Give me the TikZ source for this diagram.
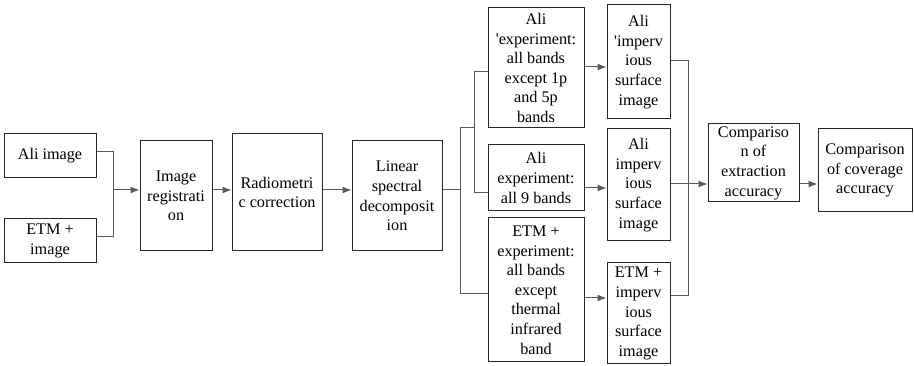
\documentclass[tikz,border=0pt]{standalone}
\usepackage{fontspec}
\newfontfamily\diagfont{Liberation Serif}
\usetikzlibrary{arrows.meta}
\begin{document}
\begin{tikzpicture}[x=1pt,y=-1pt,
  box/.style={draw=black!85, line width=1pt, inner sep=0pt, align=center,
    font=\diagfont\fontsize{16.2}{19.6}\selectfont},
  conn/.style={draw=black!65, line width=1pt},
  arr/.style={conn, -{Latex[length=9pt,width=7pt]}}]
\useasboundingbox (0,0) rectangle (914,366);
% boxes
\node[box, minimum width=92, minimum height=44] (ali) at (50,156) {Ali image};
\node[box, minimum width=92, minimum height=44] (etm) at (50,241) {ETM +\\image};
\node[box, minimum width=72, minimum height=110] (reg) at (176,196) {Image\\registrati\\on};
\node[box, minimum width=90, minimum height=117] (rad) at (277,192.5) {Radiometri\\c correction};
\node[box, minimum width=90, minimum height=110] (lin) at (397,196) {Linear\\spectral\\decomposit\\ion};
\node[box, minimum width=96, minimum height=120] (exp1) at (536,68) {Ali\\\textquotesingle experiment:\\all bands\\except 1p\\and 5p\\bands};
\node[box, minimum width=96, minimum height=66] (exp2) at (536,178) {Ali\\experiment:\\all 9 bands};
\node[box, minimum width=96, minimum height=144] (exp3) at (536,290) {ETM +\\experiment:\\all bands\\except\\thermal\\infrared\\band};
\node[box, minimum width=63, minimum height=114] (imp1) at (638.5,62) {Ali\\\textquotesingle imperv\\ious\\surface\\image};
\node[box, minimum width=63, minimum height=112] (imp2) at (638.5,185) {Ali\\imperv\\ious\\surface\\image};
\node[box, minimum width=63, minimum height=101] (imp3) at (638.5,313.5) {ETM +\\imperv\\ious\\surface\\image};
\node[box, minimum width=91, minimum height=78] (cmp1) at (753.5,163) {Compariso\\n of\\extraction\\accuracy};
\node[box, minimum width=94, minimum height=83] (cmp2) at (865,170.5) {Comparison\\of coverage\\accuracy};
% junction coordinates
\coordinate (ja) at (113,152);
\coordinate (jb) at (113,237);
\coordinate (jc) at (113,190);
\coordinate (b0) at (460,190);
\coordinate (b1) at (460,128);
\coordinate (b2) at (460,294);
\coordinate (c1) at (474,128);
\coordinate (c2) at (474,72);
\coordinate (c3) at (474,193);
\coordinate (d1) at (688,61);
\coordinate (d2) at (688,184);
\coordinate (d3) at (688,296);
% connectors
\draw[conn] (ali.east |- ja) -- (ja) -- (jb) -- (etm.east |- jb);
\draw[arr] (jc) -- (reg.west |- jc);
\draw[arr] (reg.east |- jc) -- (rad.west |- jc);
\draw[arr] (rad.east |- jc) -- (lin.west |- jc);
\draw[conn] (lin.east |- b0) -- (b0);
\draw[conn] (b1) -- (b2) -- (exp3.west |- b2);
\draw[conn] (b1) -- (c1);
\draw[conn] (exp1.west |- c2) -- (c2) -- (c3) -- (exp2.west |- c3);
\draw[arr] (exp1.east |- 0,67) -- (imp1.west |- 0,67);
\draw[arr] (exp2.east |- 0,188) -- (imp2.west |- 0,188);
\draw[arr] (exp3.east |- 0,298) -- (imp3.west |- 0,298);
\draw[conn] (imp1.east |- d1) -- (d1) -- (d3) -- (imp3.east |- d3);
\draw[arr] (imp2.east |- d2) -- (cmp1.west |- d2);
\draw[arr] (cmp1.east |- d2) -- (cmp2.west |- d2);
\end{tikzpicture}
\end{document}
